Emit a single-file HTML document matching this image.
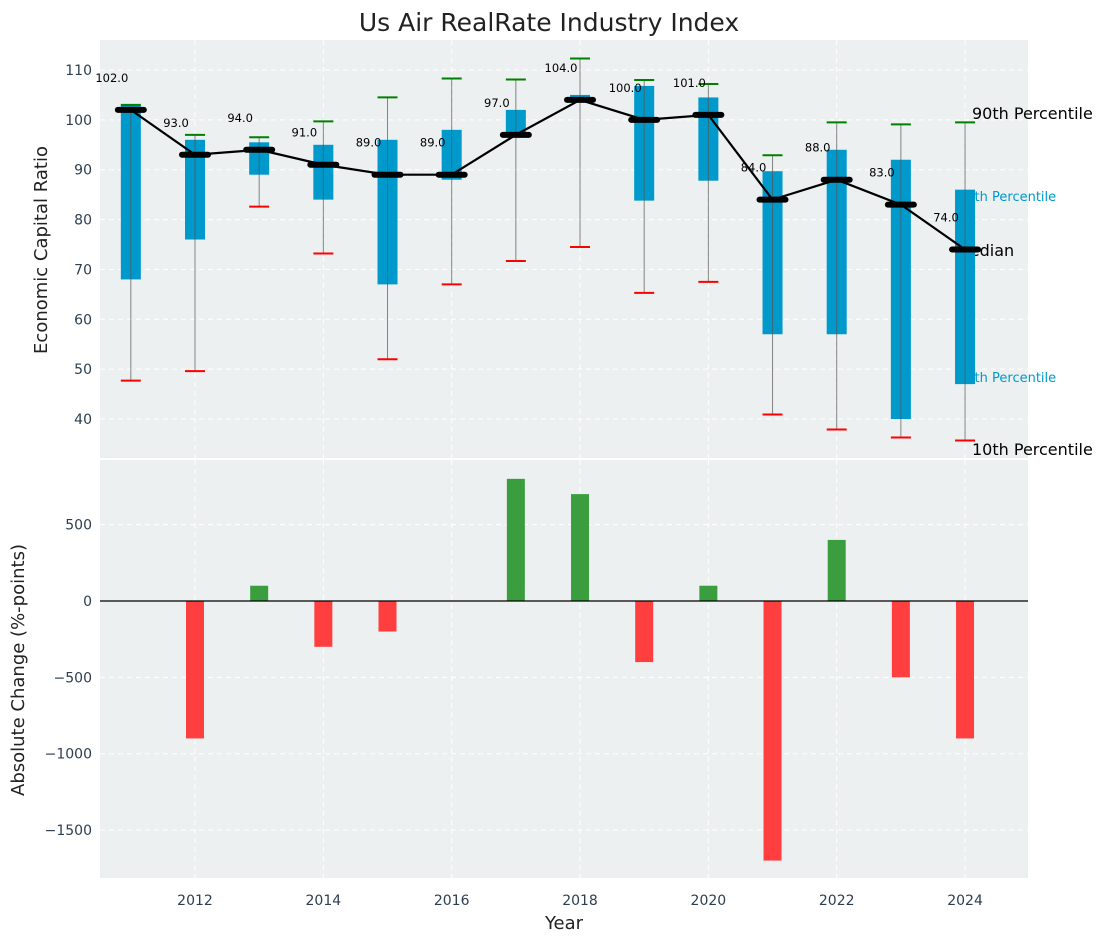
<!DOCTYPE html>
<html><head><meta charset="utf-8"><style>
body{margin:0;background:#fff;font-family:"DejaVu Sans","Liberation Sans",sans-serif}
svg text{font-family:"DejaVu Sans","Liberation Sans",sans-serif}
</style></head><body>
<svg id="c" width="1107" height="942"></svg>
<script>
const years=[2011,2012,2013,2014,2015,2016,2017,2018,2019,2020,2021,2022,2023,2024];
const medians=[102,93,94,91,89,89,97,104,100,101,84,88,83,74];
const q25=[68,76,89,84,67,88,97,104,83.8,87.8,57,57,40,47];
const q75=[103,96,95.5,95,96,98,102,105,106.8,104.5,89.7,94,92,86];
const p10=[47.7,49.6,82.6,73.2,52,67,71.7,74.5,65.3,67.5,40.9,37.9,36.3,35.7];
const p90=[103,97,96.5,99.7,104.5,108.3,108.1,112.3,108,107.2,92.9,99.5,99.1,99.5];
const changes=[null,-900,100,-300,-200,0,800,700,-400,100,-1700,400,-500,-900];
const topTicks=[40,50,60,70,80,90,100,110];
const botTicks=[500,0,-500,-1000,-1500];
const xTicks=[2012,2014,2016,2018,2020,2022,2024];

const svg=document.getElementById('c');const NS='http://www.w3.org/2000/svg';
function el(t,a,txt){const e=document.createElementNS(NS,t);for(const k in a)e.setAttribute(k,a[k]);if(txt!=null)e.textContent=txt;svg.appendChild(e);return e;}
const L=100,R=1028,T1=40,B1=458,T2=460,B2=878;
const x=v=>195+(v-2012)*64.17;
const y1=v=>70+(110-v)*4.986;
const y2=v=>601-v*0.1527;

el('rect',{x:L,y:T1,width:R-L,height:B1-T1,fill:'#ecf0f1',});
el('rect',{x:L,y:T2,width:R-L,height:B2-T2,fill:'#ecf0f1',});
topTicks.forEach(t=>{el('line',{x1:L,x2:R,y1:y1(t),y2:y1(t),stroke:'#fff','stroke-dasharray':'5,4','stroke-width':1});
 const e=el('text',{x:L-8,y:y1(t)+5,'text-anchor':'end','font-size':14,fill:'#2c3e50'},t);});
botTicks.forEach(t=>{el('line',{x1:L,x2:R,y1:y2(t),y2:y2(t),stroke:'#fff','stroke-dasharray':'5,4','stroke-width':1});
 const e=el('text',{x:L-8,y:y2(t)+5,'text-anchor':'end','font-size':14,fill:'#2c3e50'},String(t).replace('-','\u2212'));});
xTicks.forEach(t=>{[[T1,B1],[T2,B2]].forEach(([a,b])=>el('line',{x1:x(t),x2:x(t),y1:a,y2:b,stroke:'#fff','stroke-dasharray':'5,4','stroke-width':1}));
 const e=el('text',{x:x(t),y:905,'text-anchor':'middle','font-size':14,fill:'#2c3e50'},t);});

const lab=[['90th Percentile',972,119,16,'#000'],['75th Percentile',958,201,13,'#0099cc'],['Median',956,256,16,'#000'],['25th Percentile',958,382,13,'#0099cc'],['10th Percentile',972,455,16,'#000']];
lab.forEach(l=>{const e=el('text',{x:l[1],y:l[2],'font-size':l[3],fill:l[4]},l[0]);});

years.forEach((yr,i)=>{const cx=x(yr);
 const b=el('rect',{x:cx-10,y:y1(q75[i]),width:20,height:y1(q25[i])-y1(q75[i]),fill:'#0099cc'});
 el('line',{x1:cx,x2:cx,y1:y1(p90[i]),y2:y1(p10[i]),stroke:'#555','stroke-width':1,opacity:0.7});
 el('line',{x1:cx-10,x2:cx+10,y1:y1(p90[i]),y2:y1(p90[i]),stroke:'green','stroke-width':2});
 el('line',{x1:cx-10,x2:cx+10,y1:y1(p10[i]),y2:y1(p10[i]),stroke:'red','stroke-width':2});
});
let d='';years.forEach((yr,i)=>{d+=(i?'L':'M')+x(yr)+','+y1(medians[i]);});
const ml=el('path',{d:d,fill:'none',stroke:'#000','stroke-width':2.2});
years.forEach((yr,i)=>{const cx=x(yr),cy=y1(medians[i]);
 const m=el('line',{x1:cx-13,x2:cx+13,y1:cy,y2:cy,stroke:'#000','stroke-width':6,'stroke-linecap':'round'});
 const t=el('text',{x:cx-19,y:cy-28,'text-anchor':'middle','font-size':11.5,fill:'#000'},medians[i].toFixed(1));
});
years.forEach((yr,i)=>{const v=changes[i];if(v==null||v===0)return;const cx=x(yr);
 const r=el('rect',{x:cx-9,y:Math.min(y2(v),y2(0)),width:18,height:Math.abs(y2(v)-y2(0)),fill:v>0?'#3a9e3f':'#ff3f3f'});});
el('line',{x1:L,x2:R,y1:y2(0),y2:y2(0),stroke:'#000','stroke-width':1.2,});

el('text',{x:549,y:31,'text-anchor':'middle','font-size':25,fill:'#222',},'Us Air RealRate Industry Index');
el('text',{x:47,y:250,'text-anchor':'middle','font-size':18,fill:'#222',transform:'rotate(-90 47 250)',},'Economic Capital Ratio');
el('text',{x:24,y:670,'text-anchor':'middle','font-size':18,fill:'#222',transform:'rotate(-90 24 670)',},'Absolute Change (%-points)');
el('text',{x:564,y:929,'text-anchor':'middle','font-size':18,fill:'#222',},'Year');
</script>
</body></html>
